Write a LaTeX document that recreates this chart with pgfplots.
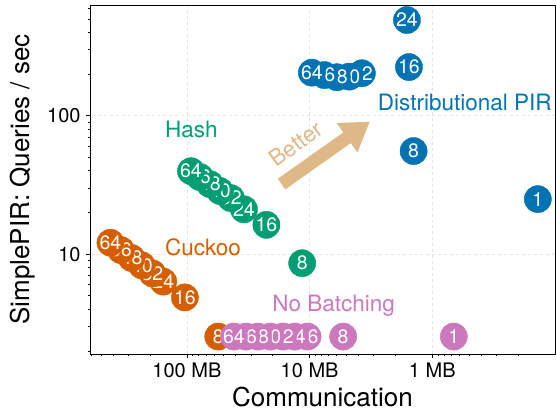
\documentclass[border=0pt]{standalone}
\usepackage{fontspec}
\setmainfont{TeX Gyre Heros}
\usepackage{pgfplots}
\pgfplotsset{compat=1.18}
\usetikzlibrary{arrows.meta}
\definecolor{cblue}{HTML}{0173B2}
\definecolor{cgreen}{HTML}{029E73}
\definecolor{corange}{HTML}{D55E00}
\definecolor{cpink}{HTML}{CC78BC}
\definecolor{ctan}{HTML}{DEB887}
\newcommand{\lblfont}{\fontsize{19.5bp}{22bp}\selectfont}
\newcommand{\annfont}{\fontsize{22.5bp}{26bp}\selectfont}
\begin{document}
\begin{tikzpicture}
\useasboundingbox (-90bp,-59bp) rectangle (466bp,354bp);
\begin{axis}[
  at={(0,0)}, anchor=south west,
  scale only axis, width=465bp, height=349bp,
  xmode=log, ymode=log, x dir=reverse,
  xmin=0.1, xmax=617, ymin=1.90, ymax=632,
  xtick={1,10,100}, xticklabels={1 MB,10 MB,100 MB},
  ytick={10,100}, yticklabels={10,100},
  minor xtick={0.2,0.3,0.4,0.5,0.6,0.7,0.8,0.9,2,3,4,5,6,7,8,9,20,30,40,50,60,70,80,90,200,300,400,500,600},
  minor ytick={2,3,4,5,6,7,8,9,20,30,40,50,60,70,80,90,200,300,400,500,600},
  tick align=outside, xtick pos=bottom, ytick pos=left,
  major tick length=4bp, minor tick length=2.5bp,
  xmajorgrids, ymajorgrids,
  major grid style={dashed, gray!22, line width=0.8bp},
  axis line style={line width=0.9bp},
  tick style={black, line width=0.8bp},
  ticklabel style={font=\fontsize{20bp}{24bp}\selectfont},
  xticklabel style={anchor=base, yshift=-20bp},
  yticklabel style={xshift=-2bp},
  xlabel={Communication}, ylabel={SimplePIR: Queries / sec},
  every axis x label/.style={at={(axis description cs:0.5,-0.123)},anchor=center,font=\fontsize{26bp}{30bp}\selectfont},
  every axis y label/.style={at={(axis description cs:-0.144,0.5)},rotate=90,anchor=center,font=\fontsize{26bp}{30bp}\selectfont},
  clip=false,
  only marks, mark=*, mark size=13.6bp,
  scatter, point meta=explicit symbolic,
  scatter/@pre marker code/.code={\pgfscope},
  scatter/@post marker code/.code={\pgftext{\color{white}\lblfont\pgfplotspointmeta}\endpgfscope},
]
\addplot[color=cblue] table[meta=l] {
x y l
0.138 25.0 1
1.42 55.6 8
1.55 225 16
1.61 492 24
3.75 203 32
4.74 192 40
6.00 190 48
7.59 197 56
9.59 205 64
};
\addplot[color=cgreen] table[meta=l] {
x y l
11.5 8.61 8
22.5 16.3 16
34.3 21.1 24
43.8 25.4 32
53.8 28.6 40
65.0 32.1 48
78.4 36.1 56
92.7 39.8 64
};
\addplot[color=corange] table[meta=l] {
x y l
55.6 2.54 8
104 4.87 16
156 6.34 24
191 7.26 32
233 8.3 40
283 9.39 48
345 10.7 56
420 12.1 64
};
\addplot[color=cpink] table[meta=l] {
x y l
0.668 2.54 1
5.33 2.54 8
10.4 2.54 16
13.2 2.54 24
16.5 2.54 32
20.9 2.54 40
26.3 2.54 48
33.0 2.54 56
41.4 2.54 64
};
\draw[ctan, line width=13bp, -{Triangle[width=34bp,length=28bp]}] (axis description cs:0.412,0.487) -- (axis description cs:0.602,0.666);
\node[ctan, font=\annfont, rotate=36] at (axis description cs:0.4424,0.602) {Better};
\node[cgreen, font=\annfont] at (axis description cs:0.218,0.643) {Hash};
\node[corange, font=\annfont] at (axis description cs:0.243,0.306) {Cuckoo};
\node[cpink, font=\annfont] at (axis description cs:0.524,0.138) {No Batching};
\node[cblue, font=\annfont] at (axis description cs:0.806,0.722) {Distributional PIR};
\end{axis}
\end{tikzpicture}
\end{document}
